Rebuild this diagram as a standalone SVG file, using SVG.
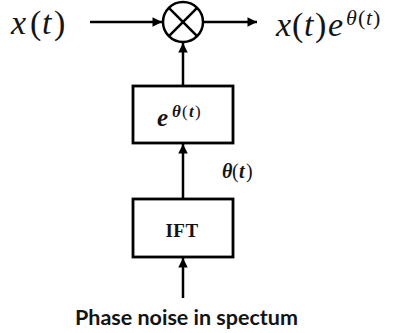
<svg xmlns="http://www.w3.org/2000/svg" width="396" height="333" viewBox="0 0 396 333">
<style>
.ln{stroke:#000;stroke-width:2.5;fill:none}
.box{stroke:#000;stroke-width:2.8;fill:#fff}
.m{font-family:"Liberation Serif",serif;fill:#141414}
.i{font-style:italic}
.bi{font-style:italic;font-weight:bold}
.p{font-style:normal}
.b{font-family:"Liberation Serif",serif;font-weight:bold;fill:#141414}
.s{font-family:Lato,"Liberation Sans",sans-serif;font-weight:bold;fill:#141414}
</style>
<defs>
<marker id="ah" viewBox="0 0 10 10" refX="10" refY="5" markerWidth="4" markerHeight="3.8" orient="auto" markerUnits="strokeWidth">
<path d="M0,0 L10,5 L0,10 z" fill="#000"/>
</marker>
</defs>
<rect width="396" height="333" fill="#fff"/>
<g id="connectors">
<line class="ln" x1="90" y1="22" x2="162" y2="22" marker-end="url(#ah)"/>
<line class="ln" x1="203" y1="22" x2="257" y2="22" marker-end="url(#ah)"/>
<line class="ln" x1="183" y1="86" x2="183" y2="43" marker-end="url(#ah)"/>
<line class="ln" x1="183" y1="199" x2="183" y2="144" marker-end="url(#ah)"/>
<line class="ln" x1="183" y1="298" x2="183" y2="258" marker-end="url(#ah)"/>
</g>
<g id="input"><text class="m" font-size="34" y="34"><tspan class="i" x="11">x</tspan><tspan class="p" x="30">(</tspan><tspan class="i" x="42">t</tspan><tspan class="p" x="54">)</tspan></text></g>
<g id="mixer">
<circle class="ln" cx="183" cy="22" r="20"/>
<line class="ln" x1="168.9" y1="7.9" x2="197.1" y2="36.1"/>
<line class="ln" x1="197.1" y1="7.9" x2="168.9" y2="36.1"/>
</g>
<g id="output"><text class="m" font-size="34" y="36"><tspan class="i" x="276">x</tspan><tspan class="p" x="292">(</tspan><tspan class="i" x="304">t</tspan><tspan class="p" x="315">)</tspan><tspan class="i" x="328">e</tspan></text>
<text class="m" font-size="22" y="25"><tspan class="i" x="346">θ</tspan><tspan class="p" x="358">(</tspan><tspan class="i" x="366">t</tspan><tspan class="p" x="373">)</tspan></text></g>
<g id="exp">
<rect class="box" x="133" y="86" width="100" height="57"/>
<text class="m" font-size="25" y="126"><tspan class="bi" x="157">e</tspan></text>
<text class="m" font-size="17" y="117"><tspan class="bi" x="172">θ</tspan><tspan class="p" x="182">(</tspan><tspan class="bi" x="189">t</tspan><tspan class="p" x="195">)</tspan></text>
</g>
<g id="theta"><text class="m" font-size="20" y="178"><tspan class="bi" x="222">θ</tspan><tspan class="p" x="232">(</tspan><tspan class="bi" x="239">t</tspan><tspan class="p" x="246">)</tspan></text></g>
<g id="ift">
<rect class="box" x="133" y="199" width="100" height="58"/>
<text class="b" x="182" y="237" font-size="19" text-anchor="middle" letter-spacing="0.5">IFT</text>
</g>
<g id="label"><text class="s" x="75" y="325" font-size="21" textLength="223" lengthAdjust="spacingAndGlyphs">Phase noise in spectum</text></g>
</svg>
